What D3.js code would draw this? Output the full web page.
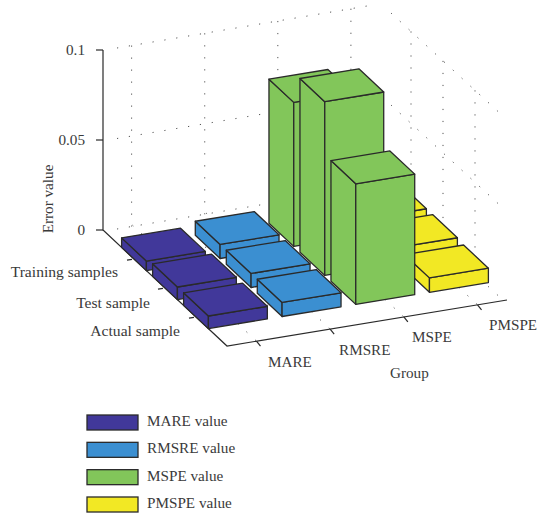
<!DOCTYPE html>
<html>
<head>
<meta charset="utf-8">
<script src="https://cdn.jsdelivr.net/npm/d3@7/dist/d3.min.js"></script>
<style>
  html, body { margin: 0; padding: 0; background: #fff; }
  svg { display: block; }
  text { font-family: "Liberation Serif", serif; font-size: 15.2px; fill: #3a3a3a; }
  text.sample { font-size: 15.6px; }
</style>
</head>
<body>
<svg id="chart" width="538" height="518"></svg>
<script>
// Error measures per sample group, one array per measure.
const groups = ["MARE", "RMSRE", "MSPE", "PMSPE"];
const samples = ["Training samples", "Test sample", "Actual sample"];
const mareValues = [0.0053, 0.007, 0.007];
const rmsreValues = [0.0078, 0.0078, 0.0078];
const mspeValues = [0.08, 0.0965, 0.067];
const pmspeValues = [0.0088, 0.0088, 0.008];
const legendLabels = ["MARE value", "RMSRE value", "MSPE value", "PMSPE value"];
const colors = ["#41389a", "#3b8fd1", "#82c65a", "#f2e824"];
const zTicks = [0, 0.05, 0.1];

const svg = d3.select("#chart");
const ink = "#2a2a2a";

// Oblique projection of the floor: each data axis contributes to both screen axes.
const xDomain = [0.6, 4.4], yDomain = [0, 4];
const xToSx = d3.scaleLinear().domain(xDomain).range([0, 280]);
const xToSy = d3.scaleLinear().domain(xDomain).range([0, -46]);
const yToSx = d3.scaleLinear().domain(yDomain).range([103, 227]);
const yToSy = d3.scaleLinear().domain(yDomain).range([230, 346]);
const zToPx = d3.scaleLinear().domain([0, 0.1]).range([0, -180]);
const project = (x, y, z) => [xToSx(x) + yToSx(y), xToSy(x) + yToSy(y) + zToPx(z)];

// The dotted walls sit on their own slightly offset planes.
const backX = d3.scaleLinear().domain([0.8, 4.22]).range([117, 367]);
const backY = d3.scaleLinear().domain([0.8, 4.22]).range([0, -42]);
const backZ = d3.scaleLinear().domain([0, 0.1]).range([229, 48]);
const back = (x, z) => [backX(x), backY(x) + backZ(z)];
const sideX = d3.scaleLinear().domain([0.375, 3.906]).range([391, 504]);
const sideY = d3.scaleLinear().domain([0.375, 3.906]).range([-104, 0]);
const sideZ = d3.scaleLinear().domain([0, 0.1]).range([301, 117]);
const side = (y, z) => [sideX(y), sideY(y) + sideZ(z)];

const line = d3.line();
const gridLayer = svg.append("g")
  .attr("fill", "none").attr("stroke", "#555").attr("stroke-width", 1)
  .attr("stroke-dasharray", "1.2 10.8");
const addGrid = pts => gridLayer.append("path").attr("d", line(pts));

const xTickVals = groups.map((_, i) => i + 1);
const yTickVals = samples.map((_, i) => i + 1);

// Back wall
zTicks.forEach(z => addGrid([back(0.8, z), back(4.22, z)]));
xTickVals.forEach(x => addGrid([back(x, 0.1), back(x, 0)]));
// Side wall
zTicks.forEach(z => addGrid([side(0.375, z), side(3.906, z)]));
yTickVals.forEach(y => addGrid([side(y, 0.1), side(y, 0)]));
// Floor
xTickVals.forEach(x => addGrid([project(x, 0, 0), project(x, 4, 0)]));
yTickVals.forEach(y => addGrid([project(0.6, y, 0), project(4.4, y, 0)]));

// Axes
const axes = svg.append("g").attr("fill", "none").attr("stroke", ink).attr("stroke-width", 1.2);
axes.append("path").attr("d", line([project(0.6, 0, 0.1), project(0.6, 0, 0), project(0.6, 4, 0), project(4.4, 4, 0)]));
zTicks.forEach(z => {
  const [px, py] = project(0.6, 0, z);
  axes.append("path").attr("d", line([[px - 7, py], [px, py]]));
  svg.append("text").attr("x", px - 18).attr("y", py + 5).attr("text-anchor", "end").text(z);
});
xTickVals.forEach(x => {
  const [px, py] = project(x, 4, 0);
  axes.append("path").attr("d", line([[px, py], [px + 4, py + 5]]));
});
yTickVals.forEach(y => {
  const [px, py] = project(0.6, y, 0);
  axes.append("path").attr("d", line([[px - 2, py + 0.4], [px - 7, py + 1.2]]));
});

// Bars, drawn far to near so nearer blocks cover farther ones.
const series = [mareValues, rmsreValues, mspeValues, pmspeValues];
const half = 0.4;
const bars = svg.append("g").attr("stroke", ink).attr("stroke-width", 1.3).attr("stroke-linejoin", "round");
d3.range(groups.length - 1, -1, -1).forEach(g => {
  samples.forEach((_, s) => {
    const x0 = g + 1 - half, x1 = g + 1 + half;
    const y0 = s + 1 - half, y1 = s + 1 + half;
    const v = series[g][s];
    const faces = [
      [project(x0, y0, 0), project(x0, y1, 0), project(x0, y1, v), project(x0, y0, v)],
      [project(x0, y1, 0), project(x1, y1, 0), project(x1, y1, v), project(x0, y1, v)],
      [project(x0, y0, v), project(x0, y1, v), project(x1, y1, v), project(x1, y0, v)]
    ];
    bars.selectAll(null).data(faces).enter().append("path")
      .attr("d", d => line(d) + "Z")
      .attr("fill", colors[g]);
  });
});

// Category and axis labels
const sampleLabelPos = [[118, 277], [150, 308], [180, 336]];
samples.forEach((t, i) => {
  svg.append("text").attr("class", "sample")
    .attr("x", sampleLabelPos[i][0]).attr("y", sampleLabelPos[i][1])
    .attr("text-anchor", "end").text(t);
});
const groupLabelPos = [[268, 367], [339, 355], [412, 342], [489, 330]];
groups.forEach((t, i) => {
  svg.append("text").attr("x", groupLabelPos[i][0]).attr("y", groupLabelPos[i][1]).text(t);
});
svg.append("text").attr("x", 390).attr("y", 378).text("Group");
svg.append("text").attr("transform", "translate(53,199) rotate(-90)")
  .attr("text-anchor", "middle").text("Error value");

// Legend
const legendScale = d3.scalePoint().domain(legendLabels).range([415, 497]);
legendLabels.forEach((t, i) => {
  svg.append("rect").attr("x", 87).attr("y", legendScale(t)).attr("width", 51).attr("height", 15)
    .attr("fill", colors[i]).attr("stroke", ink).attr("stroke-width", 1.3);
  svg.append("text").attr("x", 147).attr("y", legendScale(t) + 11).text(t);
});
</script>
</body>
</html>
